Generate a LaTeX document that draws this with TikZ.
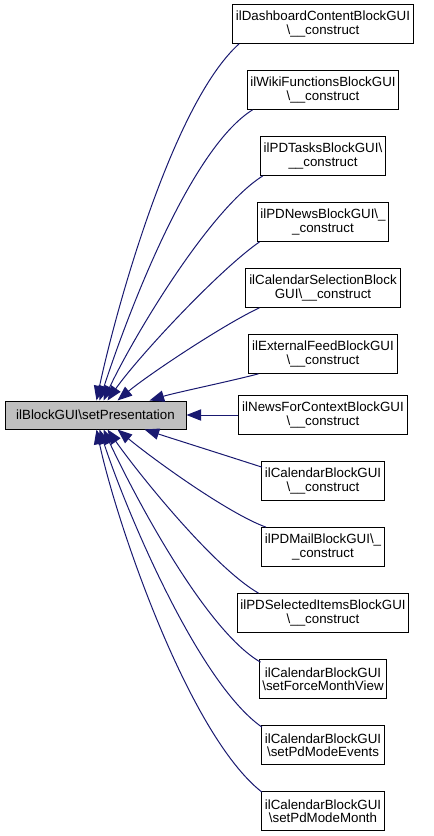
\documentclass[tikz,border=0pt]{standalone}
\usepackage{fontspec}
\setmainfont{Liberation Sans}
\usetikzlibrary{arrows.meta,calc}
\definecolor{edgeblue}{HTML}{191970}
\definecolor{curgray}{HTML}{BFBFBF}

\tikzset{
  fnbox/.style={draw=black,fill=white,line width=0.75pt,align=center,
    font=\fontsize{10}{10}\selectfont,inner xsep=2.5pt,minimum height=29pt},
  curbox/.style={fnbox,fill=curgray,minimum width=135.75pt,minimum height=21pt},
  call/.style={edgeblue,line width=0.75pt,{Triangle[length=11pt,width=8.5pt]}-}
}

\begin{document}
\begin{tikzpicture}[x=0.75pt,y=-0.75pt]
  \useasboundingbox (0,0) rectangle (433,836);
  % function whose callers are shown
  \node[curbox] (sp) at (95.5,415) {ilBlockGUI\textbackslash setPresentation};
  % callers
  \node[fnbox] (dash)  at (323,24)  {ilDashboardContentBlockGUI\\\textbackslash\_\_construct};
  \node[fnbox] (wiki)  at (323,90)  {ilWikiFunctionsBlockGUI\\\textbackslash\_\_construct};
  \node[fnbox] (tasks) at (323,156) {ilPDTasksBlockGUI\textbackslash\\\_\_construct};
  \node[fnbox] (news)  at (323,222) {ilPDNewsBlockGUI\textbackslash\_\\\_construct};
  \node[fnbox] (calsel) at (323,288) {ilCalendarSelectionBlock\\GUI\textbackslash\_\_construct};
  \node[fnbox] (feed)  at (323,354) {ilExternalFeedBlockGUI\\\textbackslash\_\_construct};
  \node[fnbox] (ctx)   at (323,415) {ilNewsForContextBlockGUI\\\textbackslash\_\_construct};
  \node[fnbox] (cal)   at (323,481) {ilCalendarBlockGUI\\\textbackslash\_\_construct};
  \node[fnbox] (mail)  at (323,547) {ilPDMailBlockGUI\textbackslash\_\\\_construct};
  \node[fnbox] (sel)   at (323,613) {ilPDSelectedItemsBlockGUI\\\textbackslash\_\_construct};
  \node[fnbox] (force) at (323,679) {ilCalendarBlockGUI\\\textbackslash setForceMonthView};
  \node[fnbox] (events) at (323,745) {ilCalendarBlockGUI\\\textbackslash setPdModeEvents};
  \node[fnbox] (month) at (323,811) {ilCalendarBlockGUI\\\textbackslash setPdModeMonth};
  % calls from above
  \foreach \n/\sx/\ex/\o/\i in {dash/92/7/78/222, wiki/95/6/72/212, tasks/99/3/65/212,
      news/103/3/55/215, calsel/113/14/40/205, feed/145/10/17/195}{
    \draw[call] ($(sp.north west)+(\sx,0)$) to[out=\o,in=\i,looseness=0.6] ($(\n.south west)+(\ex,0)$);
  }
  \draw[call] (sp.east) -- (ctx.west);
  % calls from below
  \foreach \n/\sx/\ex/\ey/\o/\i in {cal/140/1/6/-18/162, mail/113/5/0/-40/160, sel/103/22/0/-55/150,
      force/99/2/3/-65/150, events/95/1/2/-72/145, month/92/1/1/-78/142}{
    \draw[call] ($(sp.south west)+(\sx,0)$) to[out=\o,in=\i,looseness=0.6] ($(\n.north west)+(\ex,\ey)$);
  }
\end{tikzpicture}
\end{document}
